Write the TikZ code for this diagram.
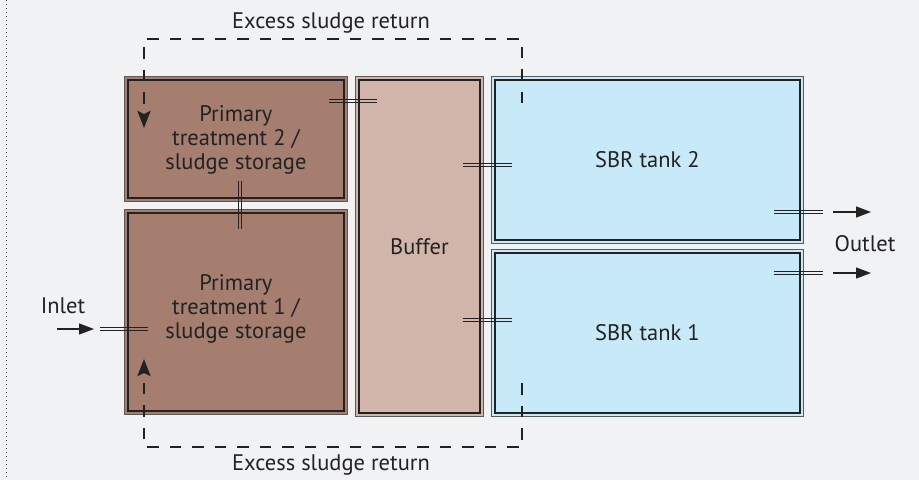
\documentclass[tikz,border=0pt]{standalone}
\usepackage{fontspec}
\setmainfont{PT Sans}
\usetikzlibrary{arrows.meta}

\definecolor{PaperGrey}{HTML}{F1F2F4}
\definecolor{PrimaryBrown}{HTML}{A57E70}
\definecolor{BufferRose}{HTML}{D1B5AB}
\definecolor{TankBlue}{HTML}{C7E9F8}
\definecolor{InkDark}{HTML}{222222}

\begin{document}
\begin{tikzpicture}[
  x=1pt, y=-1pt,
  every node/.style = {font=\fontsize{22.5}{24}\selectfont, align=center, text=InkDark},
  TankStyle/.style = {draw=black!65, line width=0.8pt, anchor=north west, inner sep=0pt},
  InnerLine/.style = {draw=InkDark, line width=1.8pt},
  HPipe/.style = {draw=none,
    preaction={draw=InkDark, line width=0.9pt, transform canvas={yshift=1.7pt}},
    preaction={draw=InkDark, line width=0.9pt, transform canvas={yshift=-1.7pt}}},
  VPipe/.style = {draw=none,
    preaction={draw=InkDark, line width=0.9pt, transform canvas={xshift=1.7pt}},
    preaction={draw=InkDark, line width=0.9pt, transform canvas={xshift=-1.7pt}}},
  FlowArrow/.style = {draw=InkDark, line width=1.3pt, -{Triangle[length=15pt,width=11pt]}},
  ReturnLine/.style = {draw=InkDark, line width=2.7pt, dash pattern=on 11.5pt off 11pt,
    -{Stealth[length=17pt,width=13pt,inset=3pt]}}
  ]

  % page
  \fill[PaperGrey] (0,0) rectangle (919,480);
  \useasboundingbox (0,0) rectangle (919,480);
  \draw[black!75, line width=1pt, dash pattern=on 1pt off 3pt] (6.5,0) -- (6.5,480);

  % tanks
  \node[TankStyle, fill=PrimaryBrown, minimum width=223pt, minimum height=125pt] (P2) at (124,76) {};
  \node[TankStyle, fill=PrimaryBrown, minimum width=223pt, minimum height=205pt] (P1) at (124,209) {};
  \node[TankStyle, fill=BufferRose, minimum width=128pt, minimum height=340pt] (Buf) at (355,76) {};
  \node[TankStyle, fill=TankBlue, minimum width=312pt, minimum height=167pt] (S2) at (491,76) {};
  \node[TankStyle, fill=TankBlue, minimum width=312pt, minimum height=167pt] (S1) at (491,249) {};

  \draw[InnerLine] ([shift={(4pt,-4pt)}]P2.north west) rectangle ([shift={(-4pt,4pt)}]P2.south east);
  \draw[InnerLine] ([shift={(4pt,-4pt)}]P1.north west) rectangle ([shift={(-4pt,4pt)}]P1.south east);
  \draw[InnerLine] ([shift={(4pt,-4pt)}]Buf.north west) rectangle ([shift={(-4pt,4pt)}]Buf.south east);
  \draw[InnerLine] ([shift={(4pt,-4pt)}]S2.north west) rectangle ([shift={(-4pt,4pt)}]S2.south east);
  \draw[InnerLine] ([shift={(4pt,-4pt)}]S1.north west) rectangle ([shift={(-4pt,4pt)}]S1.south east);

  \node (P2text) at ([yshift=-1pt]P2.center) {Primary\\treatment 2 /\\sludge storage};
  \node (P1text) at ([yshift=3pt]P1.center) {Primary\\treatment 1 /\\sludge storage};
  \node (Buftext) at (Buf.center) {Buffer};
  \node (S2text) at (S2.center) {SBR tank 2};
  \node (S1text) at (S1.center) {SBR tank 1};

  % pipes between tanks
  \coordinate (p21a) at (329,101);  \coordinate (p21b) at (377,101);
  \coordinate (p12a) at (240,181);  \coordinate (p12b) at (240,229);
  \coordinate (pb2a) at (463,165);  \coordinate (pb2b) at (512,165);
  \coordinate (pb1a) at (463,320);  \coordinate (pb1b) at (512,320);
  \draw[HPipe] (p21a) -- (p21b);
  \draw[VPipe] (p12a) -- (p12b);
  \draw[HPipe] (pb2a) -- (pb2b);
  \draw[HPipe] (pb1a) -- (pb1b);

  % inlet
  \node (Inlet) at (63,306) {Inlet};
  \coordinate (in0) at (57,329);    \coordinate (in1) at (94,329);
  \coordinate (inA) at (100,329);   \coordinate (inB) at (148,329);
  \draw[FlowArrow] (in0) -- (in1);
  \draw[HPipe] (inA) -- (inB);

  % outlets
  \node (Outlet) at (865,244) {Outlet};
  \coordinate (o2A) at (774,212);   \coordinate (o2B) at (823,212);
  \coordinate (o2s) at (833,212);   \coordinate (o2e) at (871,212);
  \coordinate (o1A) at (774,273);   \coordinate (o1B) at (823,273);
  \coordinate (o1s) at (833,273);   \coordinate (o1e) at (871,273);
  \draw[HPipe] (o2A) -- (o2B);
  \draw[FlowArrow] (o2s) -- (o2e);
  \draw[HPipe] (o1A) -- (o1B);
  \draw[FlowArrow] (o1s) -- (o1e);

  % excess sludge return
  \node (RetTop) at (331,23) {Excess sludge return};
  \node (RetBot) at (331,465) {Excess sludge return};
  \coordinate (topStart) at (522,103);
  \coordinate (topCorner) at (144,39);
  \coordinate (topTip) at (144,128);
  \coordinate (botStart) at (522,383);
  \coordinate (botCorner) at (144,447);
  \coordinate (botTip) at (144,359);
  \draw[ReturnLine] (topStart) |- (topCorner) -- (topTip);
  \draw[ReturnLine] (botStart) |- (botCorner) -- (botTip);

\end{tikzpicture}
\end{document}
